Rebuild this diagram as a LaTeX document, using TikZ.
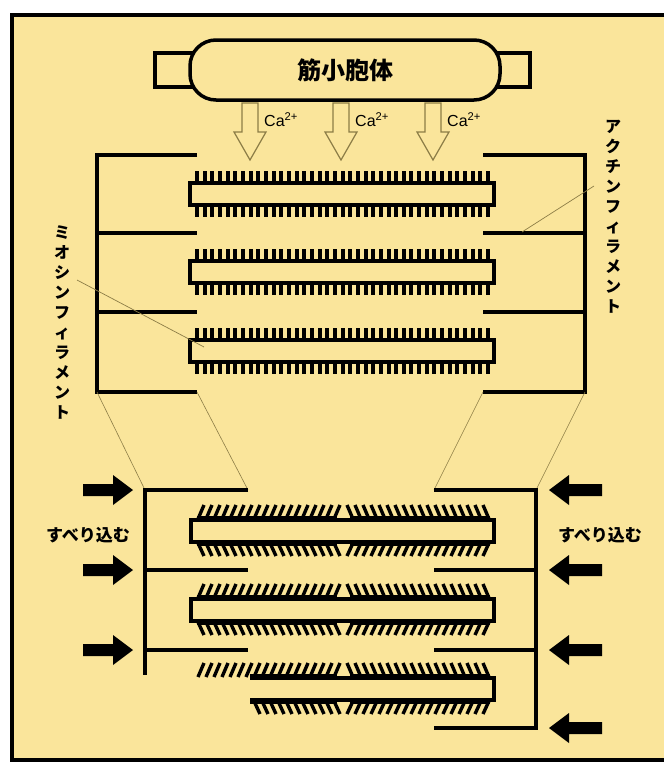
\documentclass[tikz,border=0pt]{standalone}
\usepackage{fontspec}
\setmainfont{Liberation Sans}
\newfontfamily\jp{Noto Sans CJK JP}
\usepackage{tikz}

\definecolor{paper}{RGB}{250,229,155}
\definecolor{guide}{RGB}{140,125,70}

\begin{document}
\begin{tikzpicture}[x = 1pt, y = -1pt, line cap = butt]
        \useasboundingbox (0,0) rectangle (664,763);
        \fill[white] (0,0) rectangle (664,763);
        \fill[paper] (12,15) rectangle (664,760);
        \draw[line width = 3.5] (664,15) -- (12,15) -- (12,760) -- (664,760);

        \draw[line width = 3.5, fill = paper] (155,53) rectangle (200,87);
        \draw[line width = 3.5, fill = paper] (490,53) rectangle (530,87);
        \node[draw, line width = 3.5, fill = paper, rounded corners = 26pt,
              minimum width = 310pt, minimum height = 60pt,
              font = \jp\bfseries\fontsize{24}{24}\selectfont] (sr) at (345,70) {筋小胞体};

        \foreach \x/\n in {250/1, 341/2, 433/3} {
            \draw[guide, line width = 1.2, fill = paper] (\x-8,103) -- (\x-8,132) -- (\x-16,132)
                -- (\x,160) -- (\x+16,132) -- (\x+8,132) -- (\x+8,103) -- cycle;
            \node[anchor = west, inner sep = 0, font = \fontsize{16}{16}\selectfont] (ca\n) at (\x+14,120) {Ca\textsuperscript{2+}};
        }

        \draw[line width = 4] (197,155) -- (97,155) -- (97,392) -- (197,392);
        \draw[line width = 4] (483,155) -- (585,155) -- (585,392) -- (483,392);
        \foreach \y in {233,312} {
            \draw[line width = 4] (97,\y) -- (197,\y);
            \draw[line width = 4] (483,\y) -- (585,\y);
        }

        \foreach \yc in {194,272,351} {
            \foreach \x in {197,204.66,...,489} {
                \draw[line width = 4] (\x,\yc-10) -- (\x,\yc-23);
                \draw[line width = 4] (\x,\yc+10) -- (\x,\yc+23);
            }
            \draw[line width = 3.5, fill = paper] (190,\yc-11) rectangle (494,\yc+11);
        }

        \node[anchor = north, align = center, font = \jp\bfseries\fontsize{16}{20}\selectfont] (myosin) at (62,222)
            {ミ\\オ\\シ\\ン\\フ\\ィ\\ラ\\メ\\ン\\ト};
        \node[anchor = north, align = center, font = \jp\bfseries\fontsize{16}{20}\selectfont] (actin) at (613,117)
            {ア\\ク\\チ\\ン\\フ\\ィ\\ラ\\メ\\ン\\ト};
        \draw[guide, line width = 0.7] (77,280) -- (204,347);
        \draw[guide, line width = 0.7] (594,186) -- (522,232);

        \draw[guide, line width = 0.6] (97,392) -- (145,490);
        \draw[guide, line width = 0.6] (197,392) -- (248,490);
        \draw[guide, line width = 0.6] (483,392) -- (434,490);
        \draw[guide, line width = 0.6] (585,392) -- (536,490);

        \draw[line width = 4] (248,490) -- (145,490) -- (145,675);
        \draw[line width = 4] (434,490) -- (536,490) -- (536,728) -- (434,728);
        \foreach \y in {570,650} {
            \draw[line width = 4] (145,\y) -- (248,\y);
            \draw[line width = 4] (434,\y) -- (536,\y);
        }

        \foreach \y in {490,570,650}
            \fill (83,\y-6) -- (113,\y-6) -- (113,\y-15) -- (133,\y) -- (113,\y+15) -- (113,\y+6) -- (83,\y+6) -- cycle;
        \foreach \y in {490,570,650,728}
            \fill (602,\y-6) -- (569,\y-6) -- (569,\y-15) -- (549,\y) -- (569,\y+15) -- (569,\y+6) -- (602,\y+6) -- cycle;

        \node[font = \jp\bfseries\fontsize{17}{17}\selectfont] (slideL) at (88,535) {すべり込む};
        \node[font = \jp\bfseries\fontsize{17}{17}\selectfont] (slideR) at (600,535) {すべり込む};

        % heads lean toward the bare zone in the middle
        \foreach \yc/\xs/\xt in {531/198/206, 610/198/206, 689/254/262} {
            \foreach \x in {198,206,...,334} {
                \draw[line width = 3.4] (\x,\yc-12) -- (\x+6,\yc-26);
            }
            \foreach \x in {353,361,...,490} {
                \draw[line width = 3.4] (\x,\yc-12) -- (\x-6,\yc-26);
                \draw[line width = 3.4] (\x,\yc+12) -- (\x-6,\yc+25);
            }
            \foreach \x in {\xs,\xt,...,334} {
                \draw[line width = 3.4] (\x,\yc+12) -- (\x+6,\yc+25);
            }
        }
        \foreach \yc/\xs in {531/197, 610/197, 689/250} {
            \draw[line width = 4] (\xs,\yc-13) -- (337,\yc-13) (350,\yc-13) -- (490,\yc-13);
            \draw[line width = 4] (\xs,\yc+13) -- (337,\yc+13) (350,\yc+13) -- (490,\yc+13);
        }
        \draw[line width = 3.5, fill = paper] (191,520) rectangle (494,542);
        \draw[line width = 3.5, fill = paper] (191,599) rectangle (494,621);
        \draw[line width = 3.5] (250,678) -- (494,678) -- (494,700) -- (250,700);
    \end{tikzpicture}
\end{document}
